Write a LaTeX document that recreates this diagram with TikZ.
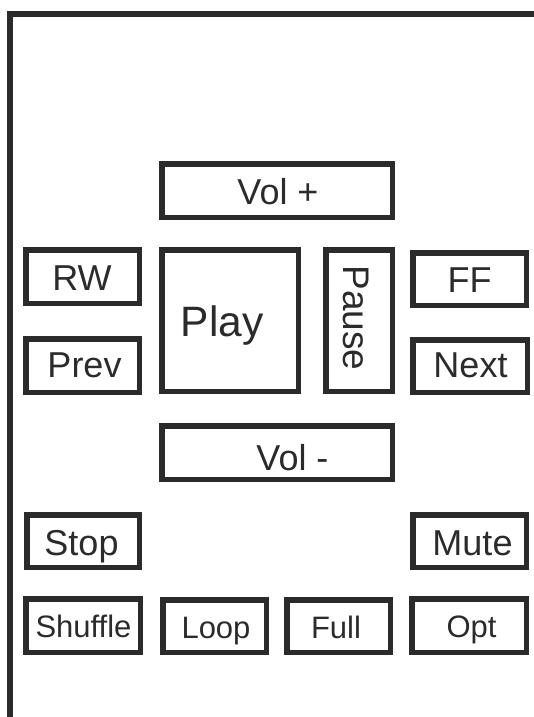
\documentclass[tikz,border=0pt]{standalone}
\usepackage{fontspec}
\setmainfont{Liberation Sans}
\definecolor{ink}{HTML}{2B2B2B}
\tikzset{
  btn/.style={draw=ink, line width=5.5pt, rectangle, inner sep=0pt, fill=none},
  lbl/.style={text=ink, inner sep=0pt, anchor=base, font=\fontsize{36}{40}\selectfont},
  lblsmall/.style={lbl, font=\fontsize{31}{34}\selectfont},
  frameline/.style={draw=ink, line width=5.5pt, line join=miter}
}
\newcommand\btn[5]{\node[btn, minimum width={(#4-#2-5.5)*1pt}, minimum height={(#5-#3-5.5)*1pt}] (#1) at ({(#2+#4)/2},{(#3+#5)/2}) {};}
\begin{document}
\begin{tikzpicture}[x=1pt,y=-1pt]
\useasboundingbox (0,0) rectangle (534,717);
\coordinate (tr) at (534,14);
\coordinate (tl) at (10,14);
\coordinate (bl) at (10,717);
\draw[frameline] (tr) -- (tl) -- (bl);
\btn{volp}{159}{161}{395}{220}
\btn{rw}{23}{247}{142}{306}
\btn{play}{159}{247}{301}{394}
\btn{pause}{323}{247}{395}{394}
\btn{ff}{410}{250}{529}{308}
\btn{prev}{23}{336}{142}{395}
\btn{next}{410}{337}{530}{395}
\btn{volm}{159}{423}{395}{482}
\btn{stop}{24}{512}{142}{570}
\btn{mute}{410}{512}{529}{570}
\btn{shuffle}{23}{596}{143}{655}
\btn{loop}{160}{597}{269}{655}
\btn{full}{284}{597}{393}{655}
\btn{opt}{409}{596}{529}{655}
\node[lbl] (tvolp) at (278,204) {Vol +};
\node[lbl] (trw) at (82,290) {RW};
\node[lbl, font=\fontsize{42.5}{46}\selectfont] (tplay) at (222,336) {Play};
\node[text=ink, inner sep=0pt, anchor=center, rotate=-90, font=\fontsize{37}{40}\selectfont] (tpause) at (356,318) {Pause};
\node[lbl] (tff) at (469.5,292) {FF};
\node[lbl] (tprev) at (84.5,377) {Prev};
\node[lbl] (tnext) at (470.5,377) {Next};
\node[lbl] (tvolm) at (292.5,470) {Vol -};
\node[lbl] (tstop) at (81.5,555) {Stop};
\node[lbl] (tmute) at (472.5,555) {Mute};
\node[lblsmall] (tshuffle) at (83.5,637) {Shuffle};
\node[lblsmall] (tloop) at (216,638) {Loop};
\node[lblsmall] (tfull) at (336,638) {Full};
\node[lblsmall] (topt) at (471.5,637) {Opt};
\end{tikzpicture}
\end{document}
